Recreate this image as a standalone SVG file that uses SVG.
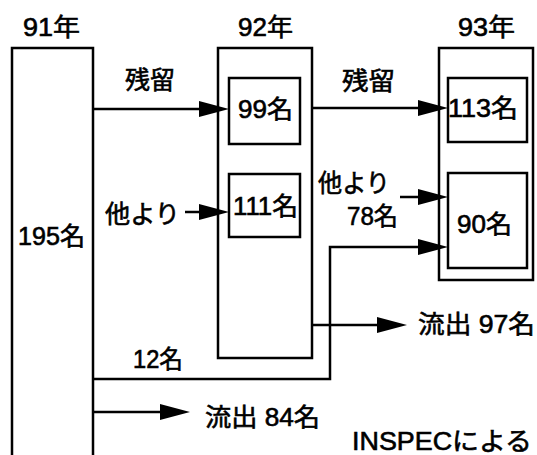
<svg xmlns="http://www.w3.org/2000/svg" width="537" height="455" viewBox="0 0 537 455">
<defs>
<style>
.b{fill:none;stroke:#000;stroke-width:2.5}
.c{fill:none;stroke:#000;stroke-width:2.5}
text{font-family:"Liberation Sans","Noto Sans CJK JP",sans-serif;font-size:25px;fill:#000;stroke:#000;stroke-width:0.6}
</style>
<marker id="ah" markerUnits="userSpaceOnUse" markerWidth="32" markerHeight="18" refX="20" refY="8" orient="auto" viewBox="0 0 32 18">
<path d="M0,0 L30,8 L0,16 Z" fill="#000"/>
</marker>
</defs>
<rect width="537" height="455" fill="#fff"/>
<g id="y91">
<path class="b" d="M12,455 V48 H93 V455"/>
<text x="23" y="36" textLength="57" lengthAdjust="spacingAndGlyphs">91年</text>
<text x="18" y="245" textLength="67" lengthAdjust="spacingAndGlyphs">195名</text>
</g>
<g id="y92">
<rect class="b" x="218" y="48" width="94" height="310"/>
<text x="238" y="36" textLength="55" lengthAdjust="spacingAndGlyphs">92年</text>
</g>
<g id="n99">
<rect class="b" x="229" y="78" width="71" height="66"/>
<text x="238" y="118" textLength="55" lengthAdjust="spacingAndGlyphs">99名</text>
</g>
<g id="n111">
<rect class="b" x="229" y="174" width="71" height="63"/>
<text x="233" y="215" textLength="65" lengthAdjust="spacingAndGlyphs">111名</text>
</g>
<g id="y93">
<rect class="b" x="439" y="48" width="94" height="232"/>
<text x="458" y="36" textLength="57" lengthAdjust="spacingAndGlyphs">93年</text>
</g>
<g id="n113">
<rect class="b" x="448" y="78" width="79" height="64"/>
<text x="448" y="117" textLength="70" lengthAdjust="spacingAndGlyphs">113名</text>
</g>
<g id="n90">
<rect class="b" x="448" y="173" width="79" height="95"/>
<text x="457" y="233" textLength="55" lengthAdjust="spacingAndGlyphs">90名</text>
</g>
<g id="connectors">
<path class="c" d="M93,109 H219" marker-end="url(#ah)"/>
<path class="c" d="M312,108 H438" marker-end="url(#ah)"/>
<path class="c" d="M185,212 H219" marker-end="url(#ah)"/>
<path class="c" d="M400,197 H438" marker-end="url(#ah)"/>
<path class="c" d="M93,379 H330 V247 H438" marker-end="url(#ah)"/>
<path class="c" d="M312,325 H397" marker-end="url(#ah)"/>
<path class="c" d="M93,412 H180" marker-end="url(#ah)"/>
</g>
<g id="labels">
<text x="125" y="89" textLength="50" lengthAdjust="spacingAndGlyphs">残留</text>
<text x="342" y="90" textLength="53" lengthAdjust="spacingAndGlyphs">残留</text>
<text x="105" y="223" textLength="75" lengthAdjust="spacingAndGlyphs">他より</text>
<text x="318" y="192" textLength="72" lengthAdjust="spacingAndGlyphs">他より</text>
<text x="347" y="225" textLength="51" lengthAdjust="spacingAndGlyphs">78名</text>
<text x="133" y="368" textLength="50" lengthAdjust="spacingAndGlyphs">12名</text>
<text x="205" y="426" textLength="115" lengthAdjust="spacingAndGlyphs">流出 84名</text>
<text x="418" y="333" textLength="117" lengthAdjust="spacingAndGlyphs">流出 97名</text>
<text x="352" y="450" textLength="180" lengthAdjust="spacingAndGlyphs">INSPECによる</text>
</g>
</svg>
